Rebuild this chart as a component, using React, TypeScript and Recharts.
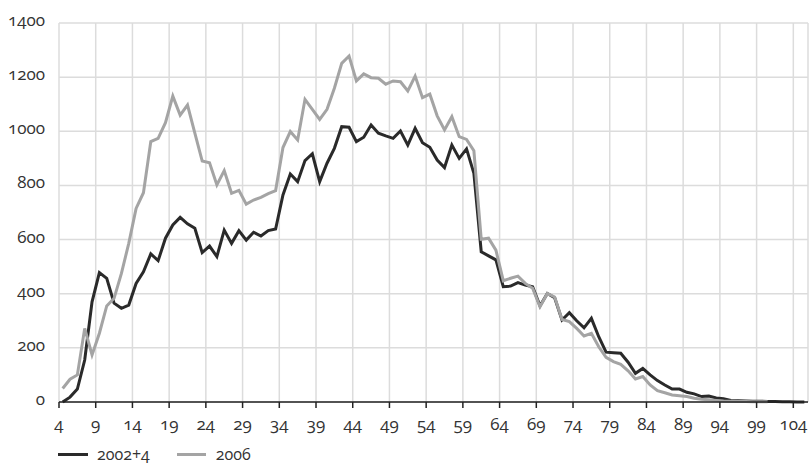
import React from 'react';
import { LineChart, Line, XAxis, YAxis, CartesianGrid } from 'recharts';

// ages 4..105, one value per year of age
const ages = Array.from({ length: 102 }, (_, i) => 4 + i);

const series2002 = [
  0, 18, 48, 155, 370, 478, 457, 365, 346, 358,
  438, 481, 547, 522, 605, 654, 682, 658, 642, 552,
  576, 537, 635, 586, 633, 598, 627, 613, 633, 639,
  765, 842, 814, 892, 917, 814, 882, 937, 1017, 1015,
  962, 978, 1023, 993, 983, 974, 1001, 949, 1011, 958,
  941, 894, 866, 949, 900, 935, 845, 555, 540, 525,
  426, 428, 441, 432, 426, 355, 401, 385, 303, 330,
  300, 274, 309, 241, 184, 182, 180, 147, 106, 124,
  100, 79, 63, 48, 48, 36, 30, 20, 22, 15,
  12, 6, 5, 4, 3, 3, 2, 2, 1, 1,
  0, 0,
];

const series2006 = [
  50, 84, 100, 272, 174, 254, 355, 383, 475, 586,
  715, 773, 962, 974, 1032, 1130, 1060, 1097, 993, 890,
  884, 802, 855, 771, 782, 731, 746, 756, 770, 781,
  940, 999, 968, 1118, 1081, 1044, 1081, 1159, 1251, 1278,
  1186, 1212, 1198, 1196, 1174, 1186, 1183, 1149, 1204, 1124,
  1137, 1057, 1005, 1054, 980, 970, 928, 601, 605, 561,
  448, 457, 465, 438, 420, 352, 401, 388, 305, 297,
  272, 244, 254, 204, 165, 149, 139, 115, 85, 94,
  63, 42, 34, 26, 23, 20, 14, 10, 8, 6,
  4, 3, 2, 2, 1, 1, 1,
];

const xTicks = [4, 9, 14, 19, 24, 29, 34, 39, 44, 49, 54, 59, 64, 69, 74, 79, 84, 89, 94, 99, 104];
const yTicks = [0, 200, 400, 600, 800, 1000, 1200, 1400];

// each year is drawn at the middle of its interval
const data = ages.map((age, i) => ({
  mid: age + 0.5,
  a: series2002[i],
  b: i < series2006.length ? series2006[i] : null,
}));

const BLACK = '#2a2a2a';
const GREY = '#a4a4a4';
const TEXT = '#333';

const App = () => {
  return (
    <div
      style={{
        position: 'absolute',
        left: 0,
        top: 0,
        width: 809,
        height: 465,
        overflow: 'hidden',
        background: '#fff',
        fontFamily: '"Open Sans", sans-serif',
        fontVariantNumeric: 'oldstyle-nums',
      }}
    >
      <LineChart width={809} height={465} data={data} margin={{ top: 23, right: 1, bottom: 23, left: 0 }}>
        <CartesianGrid stroke="#dcdcdc" strokeWidth={1.5} />
        <XAxis
          type="number"
          dataKey="mid"
          domain={[4, 106]}
          ticks={xTicks}
          interval={0}
          allowDataOverflow
          height={40}
          axisLine={{ stroke: '#222', strokeWidth: 1.5 }}
          tickLine={{ stroke: '#222', strokeWidth: 1.5 }}
          tickSize={6}
          tickMargin={10}
          tick={{ fill: TEXT, fontSize: 17 }}
        />
        <YAxis
          domain={[0, 1400]}
          ticks={yTicks}
          interval={0}
          width={59}
          axisLine={false}
          tickLine={false}
          tickSize={0}
          tickMargin={14}
          tick={{ fill: TEXT, fontSize: 17, dy: -3 }}
        />
        <Line type="linear" dataKey="a" stroke={BLACK} strokeWidth={3} dot={false} isAnimationActive={false} />
        <Line type="linear" dataKey="b" stroke={GREY} strokeWidth={3} dot={false} isAnimationActive={false} />
      </LineChart>
      <div
        style={{
          position: 'absolute',
          left: 58,
          top: 446,
          height: 16,
          lineHeight: '16px',
          display: 'flex',
          alignItems: 'center',
          fontSize: 16,
          color: TEXT,
        }}
      >
        <span style={{ display: 'inline-block', width: 30, height: 3, background: BLACK, marginRight: 9 }} />
        <span style={{ marginRight: 27 }}>2002+4</span>
        <span style={{ display: 'inline-block', width: 29, height: 3, background: GREY, marginRight: 10 }} />
        <span>2006</span>
      </div>
    </div>
  );
};

export default App;
